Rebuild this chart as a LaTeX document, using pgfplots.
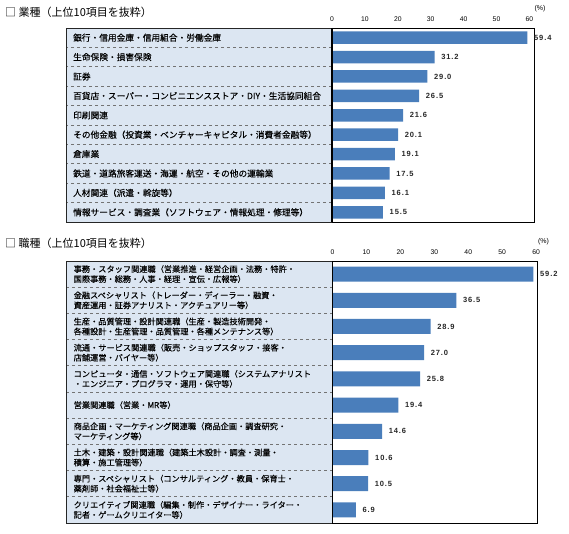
\documentclass[border=0pt]{standalone}
\usepackage{fontspec}
\setmainfont{Liberation Sans}
\newfontfamily\jp{Noto Sans CJK JP}[FakeBold=0.12]
\newfontfamily\jptitle{Noto Sans CJK JP}
\newfontfamily\val{Liberation Sans}[LetterSpace=12]
\usepackage{pgfplots}
\pgfplotsset{compat=1.18}
\usetikzlibrary{calc}
\pgfdeclarelayer{bg}
\pgfsetlayers{bg,main}
\definecolor{barblue}{HTML}{4A7EBB}
\definecolor{boxfill}{HTML}{DCE6F2}
\pgfplotsset{
  panel/.style={
    scale only axis, xmin=0, ymin=0.5, ymax=10.5, y dir=reverse,
    xtick={0,10,...,60}, xticklabel pos=upper, ytick={1,...,10},
    major tick length=0pt,
    /pgf/number format/assume math mode=true,
    xticklabel style={font=\fontsize{6.8}{7}\selectfont, yshift=3pt},
    yticklabel style={anchor=west, inner sep=0pt, align=left, xshift=-259pt},
    axis line style={black, line width=0.7pt},
    clip=false,
    nodes near coords={\pgfmathprintnumber[fixed,fixed zerofill,precision=1]{\pgfplotspointmeta}},
    point meta=x,
    nodes near coords style={font=\val\bfseries\fontsize{7.5}{8}\selectfont, anchor=west, inner sep=1pt, xshift=5.5pt, text=black!85},
  }
}
\begin{document}
\begin{tikzpicture}
\useasboundingbox (0,0) rectangle (569pt,534pt);
\node[anchor=west, font=\jptitle\fontsize{11}{12}\selectfont, inner sep=0pt] at (5pt,522pt) {□ 業種（上位10項目を抜粋）};
\node[anchor=west, font=\jptitle\fontsize{11}{12}\selectfont, inner sep=0pt] at (5pt,291pt) {□ 職種（上位10項目を抜粋）};
\begin{axis}[panel, name=top, at={(332pt,312pt)}, anchor=south west,
  width=202pt, height=194pt, xmax=61.4,
  yticklabel style={font=\jp\fontsize{8.7}{10}\selectfont},
  yticklabels={銀行・信用金庫・信用組合・労働金庫,生命保険・損害保険,証券,百貨店・スーパー・コンビニエンスストア・DIY・生活協同組合,印刷関連,その他金融（投資業・ベンチャーキャピタル・消費者金融等）,倉庫業,鉄道・道路旅客運送・海運・航空・その他の運輸業,人材関連（派遣・斡旋等）,情報サービス・調査業（ソフトウェア・情報処理・修理等）}]
\addplot[xbar, fill=barblue, draw=none, bar width=12.5pt] coordinates {
(59.4,1) (31.2,2) (29.0,3) (26.5,4) (21.6,5) (20.1,6) (19.1,7) (17.5,8) (16.1,9) (15.5,10)};
\end{axis}
\begin{axis}[panel, name=bot, at={(332.5pt,11pt)}, anchor=south west,
  width=205pt, height=262pt, xmax=60.4,
  yticklabel style={font=\jp\fontsize{8.2}{10}\selectfont},
  yticklabels={{事務・スタッフ関連職（営業推進・経営企画・法務・特許・\\国際事務・総務・人事・経理・宣伝・広報等）},
  {金融スペシャリスト（トレーダー・ディーラー・融資・\\資産運用・証券アナリスト・アクチュアリー等）},
  {生産・品質管理・設計関連職（生産・製造技術開発・\\各種設計・生産管理・品質管理・各種メンテナンス等）},
  {流通・サービス関連職（販売・ショップスタッフ・接客・\\店舗運営・バイヤー等）},
  {コンピュータ・通信・ソフトウェア関連職（システムアナリスト\\・エンジニア・プログラマ・運用・保守等）},
  {営業関連職（営業・MR等）},
  {商品企画・マーケティング関連職（商品企画・調査研究・\\マーケティング等）},
  {土木・建築・設計関連職（建築土木設計・調査・測量・\\積算・施工管理等）},
  {専門・スペシャリスト（コンサルティング・教員・保育士・\\薬剤師・社会福祉士等）},
  {クリエイティブ関連職（編集・制作・デザイナー・ライター・\\記者・ゲームクリエイター等）}}]
\addplot[xbar, fill=barblue, draw=none, bar width=15pt] coordinates {
(59.2,1) (36.5,2) (28.9,3) (27.0,4) (25.8,5) (19.4,6) (14.6,7) (10.6,8) (10.5,9) (6.9,10)};
\end{axis}
\foreach \ax in {top,bot}{
  \begin{pgfonlayer}{bg}
  \fill[boxfill] ([xshift=-266pt]\ax.north west) rectangle (\ax.south west);
  \foreach \k in {1,...,9}{
    \draw[black!55, dashed, line width=0.6pt] ($(\ax.north west)!\k/10!(\ax.south west)$) -- ++(-266pt,0);
  }
  \draw[black!85, line width=0.9pt] ([xshift=-266pt]\ax.north west) rectangle (\ax.south west);
  \end{pgfonlayer}
  \draw[line width=1.6pt] (\ax.north west) -- (\ax.south west);
  \node[font=\fontsize{7}{8}\selectfont, inner sep=0pt] at ([xshift=6pt,yshift=19pt]\ax.north east) {(\%)};
}
\end{tikzpicture}
\end{document}
